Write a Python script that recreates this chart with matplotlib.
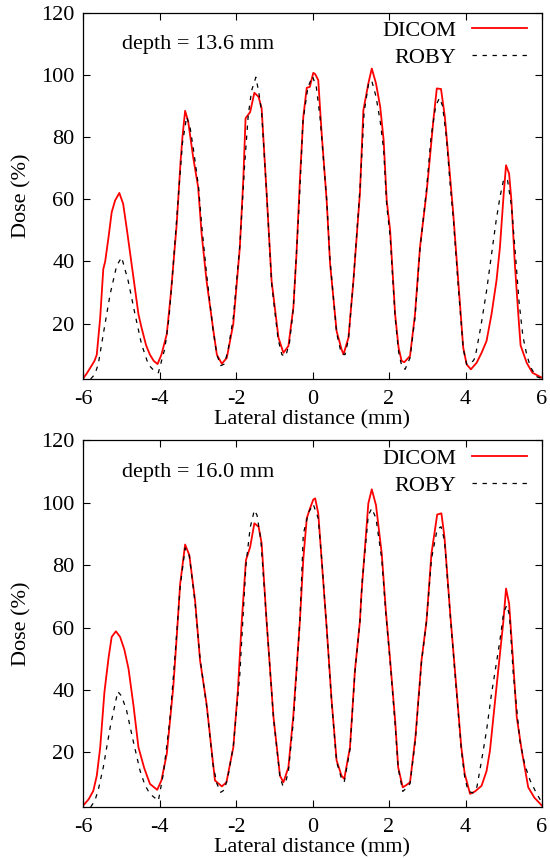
import matplotlib
matplotlib.use("Agg")
import matplotlib.pyplot as plt

plt.rcParams['font.family'] = ['Liberation Serif', 'DejaVu Serif']
plt.rcParams['font.size'] = 16
plt.rcParams['axes.unicode_minus'] = False

# ---------------- data: depth = 13.6 mm ----------------
x_dicom_136 = [-6.00, -5.90, -5.80, -5.70, -5.64, -5.55, -5.47, -5.42, -5.33, -5.25, -5.16, -5.05,
               -4.95, -4.85, -4.75, -4.65, -4.55, -4.47, -4.35, -4.25, -4.15, -4.05, -3.95, -3.81,
               -3.70, -3.55, -3.45, -3.40, -3.33, -3.25, -3.12, -2.99, -2.94, -2.90, -2.77, -2.59,
               -2.50, -2.37, -2.24, -2.07, -1.90, -1.81, -1.75, -1.63, -1.52, -1.41, -1.33, -1.20,
               -1.07, -0.89, -0.76, -0.63, -0.50, -0.42, -0.33, -0.24, -0.15, -0.07, 0.02, 0.07,
               0.15, 0.24, 0.37, 0.46, 0.63, 0.76, 0.81, 0.94, 1.07, 1.24, 1.33, 1.46,
               1.55, 1.66, 1.77, 1.86, 1.94, 2.03, 2.16, 2.25, 2.33, 2.40, 2.55, 2.68,
               2.81, 2.98, 3.03, 3.16, 3.25, 3.36, 3.46, 3.59, 3.68, 3.81, 3.94, 4.03,
               4.14, 4.29, 4.42, 4.55, 4.68, 4.81, 4.90, 5.00, 5.06, 5.14, 5.20, 5.29,
               5.38, 5.44, 5.60, 5.75, 6.00]
y_dicom_136 = [2.3, 4.0, 6.0, 8.0, 10.0, 22.0, 37.5, 40.0, 48.0, 55.8, 59.6, 62.0,
               58.5, 50.0, 41.0, 32.0, 23.0, 18.7, 13.0, 10.0, 8.0, 7.0, 10.0, 16.6,
               30.0, 52.0, 72.0, 80.0, 88.4, 85.0, 73.5, 63.9, 55.7, 49.0, 33.8, 17.6,
               10.0, 7.1, 9.0, 20.0, 44.5, 66.0, 86.0, 88.0, 94.2, 92.9, 89.2, 62.0,
               33.8, 15.5, 10.6, 12.8, 25.2, 42.0, 66.0, 86.5, 95.8, 96.1, 100.6, 100.2,
               98.3, 81.0, 59.6, 39.2, 17.6, 11.7, 10.1, 15.5, 33.8, 62.0, 88.6, 97.2,
               102.0, 97.2, 89.7, 78.9, 59.6, 49.9, 23.0, 12.3, 8.0, 7.6, 9.6, 23.0,
               44.5, 62.0, 68.2, 85.4, 95.6, 95.4, 86.5, 68.2, 55.3, 33.8, 12.3, 6.9,
               5.3, 7.4, 10.6, 14.4, 23.0, 33.8, 44.5, 62.0, 70.9, 68.2, 59.6, 39.2,
               23.0, 13.0, 7.4, 4.2, 2.6]

x_roby_136 = [-5.80, -5.69, -5.60, -5.47, -5.29, -5.12, -4.99, -4.82, -4.64, -4.47, -4.29, -4.15,
              -4.03, -3.86, -3.75, -3.64, -3.50, -3.40, -3.29, -3.20, -3.10, -2.98, -2.90, -2.77,
              -2.60, -2.50, -2.40, -2.30, -2.20, -2.07, -1.90, -1.78, -1.68, -1.59, -1.48, -1.40,
              -1.33, -1.20, -1.07, -0.90, -0.80, -0.70, -0.60, -0.50, -0.35, -0.25, -0.12, 0.00,
              0.10, 0.20, 0.37, 0.46, 0.63, 0.75, 0.85, 0.94, 1.07, 1.24, 1.35, 1.47,
              1.55, 1.66, 1.77, 1.86, 1.94, 2.03, 2.16, 2.25, 2.33, 2.42, 2.55, 2.68,
              2.81, 2.98, 3.10, 3.22, 3.32, 3.40, 3.50, 3.59, 3.68, 3.81, 3.94, 4.03,
              4.10, 4.20, 4.25, 4.40, 4.55, 4.70, 4.80, 4.90, 5.00, 5.10, 5.20, 5.30,
              5.40, 5.50, 5.60, 5.70, 5.85, 6.00]
y_roby_136 = [2.2, 3.7, 7.0, 16.6, 29.5, 38.6, 41.3, 33.8, 23.0, 13.4, 6.8, 5.0,
              4.2, 12.0, 22.0, 39.0, 62.0, 78.0, 86.5, 83.0, 75.0, 64.0, 52.0, 36.0,
              18.0, 10.0, 6.5, 7.0, 12.0, 22.0, 45.0, 70.0, 87.0, 95.0, 99.2, 94.0,
              88.0, 62.0, 33.0, 15.0, 10.0, 9.5, 14.0, 25.0, 58.0, 85.0, 96.0, 99.5,
              96.0, 86.0, 60.0, 40.0, 17.0, 10.5, 10.0, 15.0, 34.0, 63.0, 88.0, 97.5,
              98.0, 93.0, 85.0, 76.0, 58.0, 48.0, 22.0, 11.0, 6.5, 5.3, 9.0, 22.0,
              44.0, 63.0, 80.0, 90.0, 92.5, 90.0, 80.0, 66.0, 54.0, 32.0, 12.0, 6.9,
              7.0, 8.0, 9.0, 19.0, 30.5, 44.0, 53.0, 60.6, 66.5, 66.0, 58.0, 43.0,
              27.0, 16.0, 10.0, 6.0, 3.0, 2.3]

# ---------------- data: depth = 16.0 mm ----------------
x_dicom_160 = [-6.00, -5.85, -5.73, -5.64, -5.55, -5.44, -5.33, -5.25, -5.14, -5.03, -4.92, -4.81,
               -4.68, -4.55, -4.40, -4.25, -4.06, -3.95, -3.81, -3.64, -3.55, -3.46, -3.33, -3.22,
               -3.07, -2.94, -2.77, -2.65, -2.55, -2.37, -2.25, -2.07, -1.95, -1.85, -1.74, -1.63,
               -1.52, -1.41, -1.33, -1.20, -1.02, -0.85, -0.76, -0.63, -0.50, -0.33, -0.24, -0.15,
               -0.07, 0.02, 0.07, 0.15, 0.24, 0.37, 0.50, 0.63, 0.76, 0.83, 0.98, 1.11,
               1.24, 1.28, 1.46, 1.55, 1.66, 1.81, 1.92, 2.03, 2.16, 2.24, 2.36, 2.45,
               2.55, 2.69, 2.85, 2.98, 3.11, 3.26, 3.37, 3.45, 3.60, 3.76, 3.89, 3.98,
               4.12, 4.25, 4.42, 4.55, 4.64, 4.81, 4.99, 5.06, 5.14, 5.24, 5.34, 5.47,
               5.64, 5.80, 6.00]
y_dicom_160 = [2.9, 5.0, 7.7, 12.5, 21.6, 39.3, 50.5, 57.0, 58.8, 57.0, 53.0, 46.8,
               35.0, 21.6, 15.0, 9.9, 8.0, 11.0, 19.5, 40.9, 57.0, 74.0, 86.6, 83.2,
               68.7, 49.5, 35.6, 22.0, 11.0, 9.1, 10.4, 21.6, 40.0, 62.0, 81.6, 85.8,
               93.4, 92.3, 87.0, 62.0, 31.3, 12.5, 10.4, 15.2, 32.0, 62.0, 82.0, 95.0,
               98.0, 101.0, 101.4, 96.6, 81.6, 60.0, 36.6, 17.4, 12.5, 11.5, 21.6, 46.3,
               62.0, 70.9, 99.8, 104.3, 99.2, 83.7, 65.0, 49.5, 30.3, 15.2, 8.8, 9.5,
               10.4, 24.8, 49.5, 62.0, 83.7, 96.2, 96.6, 89.0, 64.5, 40.9, 21.6, 13.1,
               6.7, 7.5, 9.3, 14.0, 20.6, 40.9, 62.0, 72.5, 67.7, 50.0, 31.3, 20.6,
               8.8, 5.5, 2.9]

x_roby_160 = [-5.80, -5.69, -5.60, -5.47, -5.29, -5.16, -5.09, -4.99, -4.86, -4.69, -4.51, -4.38,
              -4.25, -4.03, -3.90, -3.73, -3.60, -3.46, -3.33, -3.22, -3.07, -2.94, -2.77, -2.60,
              -2.50, -2.40, -2.30, -2.20, -2.07, -1.90, -1.74, -1.63, -1.52, -1.45, -1.35, -1.20,
              -1.02, -0.85, -0.78, -0.70, -0.63, -0.50, -0.33, -0.24, -0.10, 0.02, 0.15, 0.24,
              0.37, 0.50, 0.63, 0.76, 0.83, 0.98, 1.11, 1.24, 1.30, 1.46, 1.55, 1.66,
              1.81, 1.92, 2.03, 2.16, 2.24, 2.36, 2.45, 2.55, 2.69, 2.85, 2.98, 3.11,
              3.26, 3.36, 3.45, 3.60, 3.76, 3.89, 3.98, 4.07, 4.20, 4.30, 4.42, 4.55,
              4.68, 4.80, 4.90, 5.00, 5.08, 5.15, 5.25, 5.42, 5.55, 5.69, 5.85, 5.97]
y_roby_160 = [2.5, 4.5, 8.0, 15.2, 28.0, 35.6, 39.5, 38.0, 33.4, 23.8, 14.2, 9.5,
              6.7, 4.5, 13.1, 30.3, 50.0, 73.0, 85.5, 83.0, 68.0, 50.0, 35.0, 16.0,
              10.0, 7.2, 8.0, 13.0, 22.0, 45.0, 80.0, 92.0, 97.6, 96.0, 88.0, 62.0,
              31.0, 12.0, 9.5, 10.5, 14.0, 30.0, 62.0, 90.0, 97.0, 99.5, 95.0, 82.0,
              60.0, 36.0, 17.0, 11.5, 10.5, 21.0, 46.0, 62.0, 75.0, 96.0, 98.2, 95.0,
              82.0, 64.0, 49.0, 29.0, 15.0, 7.5, 8.5, 10.0, 24.0, 49.0, 62.0, 82.0,
              91.5, 92.3, 88.0, 64.0, 40.0, 21.0, 12.0, 7.5, 7.0, 9.0, 17.4, 27.0,
              38.8, 48.0, 55.9, 65.0, 67.1, 64.0, 45.0, 23.8, 16.0, 11.0, 7.0, 4.5]

depth_labels = ["depth = 13.6 mm", "depth = 16.0 mm"]
series_names = ["DICOM", "ROBY"]
x_ticks = [-6, -4, -2, 0, 2, 4, 6]
y_ticks = [20, 40, 60, 80, 100, 120]

panels = [
    (x_dicom_136, y_dicom_136, x_roby_136, y_roby_136, depth_labels[0], 2.1),
    (x_dicom_160, y_dicom_160, x_roby_160, y_roby_160, depth_labels[1], 2.4),
]

W, H = 550, 858
fig = plt.figure(figsize=(5.5, 8.58), dpi=100)

rects = [
    (83 / W, 1 - 379.3 / H, (542 - 83) / W, (379.3 - 12.5) / H),
    (83 / W, 1 - 807.3 / H, (542 - 83) / W, (807.3 - 440.3) / H),
]

for rect, (xd, yd, xr, yr, dlabel, ymin) in zip(rects, panels):
    ax = fig.add_axes(rect)
    ax.plot(xd, yd, color='#ff0000', lw=1.3, label=series_names[0])
    ax.plot(xr, yr, color='black', lw=0.9, dashes=(3.5, 4.5), label=series_names[1])
    ax.set_xlim(-6, 6)
    ax.set_ylim(ymin, 120)
    ax.set_xticks(x_ticks)
    ax.set_yticks(y_ticks)
    ax.tick_params(direction='in', length=5, width=0.8, top=True, right=True,
                   labelsize=16)
    ax.tick_params(axis='x', pad=7.5)
    ax.tick_params(axis='y', pad=6)
    for s in ax.spines.values():
        s.set_linewidth(0.9)
    ax.set_xlabel("Lateral distance (mm)", fontsize=16)
    ax.set_ylabel("Dose (%)", fontsize=16)
    ax.xaxis.set_label_coords(0.5, -0.083)
    ax.yaxis.set_label_coords(-0.112, 0.5)
    ax.text(0.084, 0.912, dlabel, transform=ax.transAxes, ha='left', va='center',
            fontsize=16)
    ax.legend(loc='upper right', bbox_to_anchor=(0.968, 0.979), markerfirst=False,
              frameon=False, fontsize=16, handlelength=2.5, handletextpad=0.7,
              labelspacing=0.3, borderpad=0, borderaxespad=0)

fig.savefig("out.png", dpi=100)
